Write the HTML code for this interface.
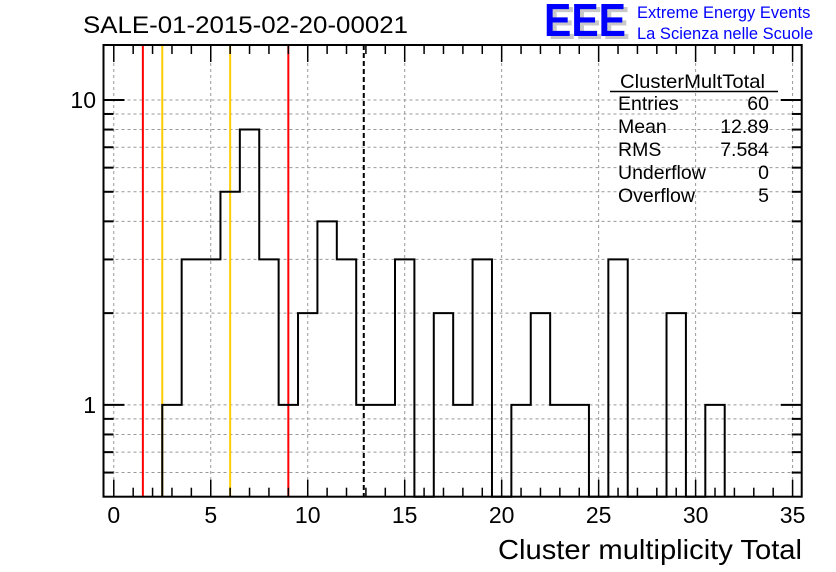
<!DOCTYPE html>
<html><head><meta charset="utf-8"><style>
body{margin:0;background:#fff;}
svg{display:block;font-family:"Liberation Sans",sans-serif;}
</style></head><body>
<svg id="chart" width="836" height="572" viewBox="0 0 836 572">
<rect x="0" y="0" width="836" height="572" fill="#fff"/>
<text x="83" y="33" font-size="24.5" textLength="325" lengthAdjust="spacingAndGlyphs">SALE-01-2015-02-20-00021</text>
<g>
<text x="548" y="39" font-size="46" font-weight="bold" fill="#c8c8c8" textLength="82" lengthAdjust="spacingAndGlyphs">EEE</text>
<text x="544" y="36" font-size="46" font-weight="bold" fill="#0000ff" textLength="82" lengthAdjust="spacingAndGlyphs">EEE</text>
<text x="637" y="18" font-size="16.5" fill="#0000ff">Extreme Energy Events</text>
<text x="637" y="39" font-size="16.5" fill="#0000ff">La Scienza nelle Scuole</text>
</g>
<g id="grid"></g>
<g id="marks"></g>
<g id="axes"></g>
<g font-size="19.5">
<text x="620" y="88" textLength="145" lengthAdjust="spacingAndGlyphs">ClusterMultTotal</text>
<line x1="610" y1="91.5" x2="778" y2="91.5" stroke="#000" stroke-width="1.5"/>
<text x="618" y="110">Entries</text><text x="769" y="110" text-anchor="end">60</text>
<text x="618" y="133">Mean</text><text x="769" y="133" text-anchor="end">12.89</text>
<text x="618" y="156">RMS</text><text x="769" y="156" text-anchor="end">7.584</text>
<text x="618" y="179">Underflow</text><text x="769" y="179" text-anchor="end">0</text>
<text x="618" y="202">Overflow</text><text x="769" y="202" text-anchor="end">5</text>
</g>
<text x="802" y="559" font-size="28" text-anchor="end" textLength="304" lengthAdjust="spacingAndGlyphs">Cluster multiplicity Total</text>
</svg>
<script>
const binCenters=[3,4,5,6,7,8,9,10,11,12,13,14,15,16,17,18,19,20,21,22,23,24,25,26,27,28,29,30,31];
const binCounts=[1,3,3,5,8,3,1,2,4,3,1,1,3,0,2,1,3,0,1,2,1,1,0,3,0,0,2,0,1];
const xTicks=[0,5,10,15,20,25,30,35];
const yTicks=[1,10];
const redLines=[1.5,9];
const orangeLines=[2.5,6];
const meanValue=[12.89];

const L=103.5,R=801.7,T=45,B=496.7;
const xMin=-0.53,xMax=35.47,yMin=0.5,yMax=15.15;
const X=v=>L+(v-xMin)/(xMax-xMin)*(R-L);
const Y=v=>B-(Math.log10(v)-Math.log10(yMin))/(Math.log10(yMax)-Math.log10(yMin))*(B-T);
const NS='http://www.w3.org/2000/svg';
function mk(tag,attrs,parent){const e=document.createElementNS(NS,tag);for(const k in attrs)e.setAttribute(k,attrs[k]);parent.appendChild(e);return e;}
const grid=document.getElementById('grid'),marks=document.getElementById('marks'),axes=document.getElementById('axes');
const minorY=[0.6,0.7,0.8,0.9,2,3,4,5,6,7,8,9];
xTicks.forEach(t=>{const l=mk('line',{x1:X(t),x2:X(t),y1:T,y2:B,stroke:'#999','stroke-dasharray':'3,3','stroke-width':1},grid);

});
yTicks.concat(minorY).forEach(t=>{const l=mk('line',{x1:L,x2:R,y1:Y(t),y2:Y(t),stroke:'#999','stroke-dasharray':'3,3','stroke-width':1},grid);

});
redLines.forEach(v=>{const l=mk('line',{x1:X(v),x2:X(v),y1:T,y2:B,stroke:'#ff0000','stroke-width':2},marks);

});
orangeLines.forEach(v=>{const l=mk('line',{x1:X(v),x2:X(v),y1:T,y2:B,stroke:'#ffcc00','stroke-width':2},marks);

});
let d='';
binCenters.forEach((c,i)=>{const v=binCounts[i]>0?binCounts[i]:yMin;const x0=X(c-0.5),x1=X(c+0.5);
 if(i===0)d+=`M${x0},${Y(yMin)}`;d+=` L${x0},${Y(v)} L${x1},${Y(v)}`;});
d+=` L${X(binCenters[binCenters.length-1]+0.5)},${Y(yMin)}`;
const h=mk('path',{d:d,fill:'none',stroke:'#000','stroke-width':2},marks);


meanValue.forEach(v=>{const l=mk('line',{x1:X(v),x2:X(v),y1:T,y2:B,stroke:'#000','stroke-width':2,'stroke-dasharray':'5,3'},marks);

});
const f=mk('rect',{x:L,y:T,width:R-L,height:B-T,fill:'none',stroke:'#000','stroke-width':2},axes);


for(let t=0;t<=35;t++){const len=t%5===0?17:9;
 mk('line',{x1:X(t),x2:X(t),y1:B,y2:B-len,stroke:'#000','stroke-width':1.5},axes);
 mk('line',{x1:X(t),x2:X(t),y1:T,y2:T+len,stroke:'#000','stroke-width':1.5},axes);}
xTicks.forEach(t=>{const tx=mk('text',{x:X(t),y:523,'font-size':23,'text-anchor':'middle'},axes);tx.textContent=t;

});
yTicks.forEach(t=>{mk('line',{x1:L,x2:L+21,y1:Y(t),y2:Y(t),stroke:'#000','stroke-width':2},axes);
 mk('line',{x1:R,x2:R-21,y1:Y(t),y2:Y(t),stroke:'#000','stroke-width':2},axes);
 const tx=mk('text',{x:96,y:Y(t)+8,'font-size':23,'text-anchor':'end'},axes);tx.textContent=t;
 
 });
minorY.forEach(t=>{mk('line',{x1:L,x2:L+10,y1:Y(t),y2:Y(t),stroke:'#000','stroke-width':2},axes);
 mk('line',{x1:R,x2:R-10,y1:Y(t),y2:Y(t),stroke:'#000','stroke-width':2},axes);});
</script>
</body></html>
